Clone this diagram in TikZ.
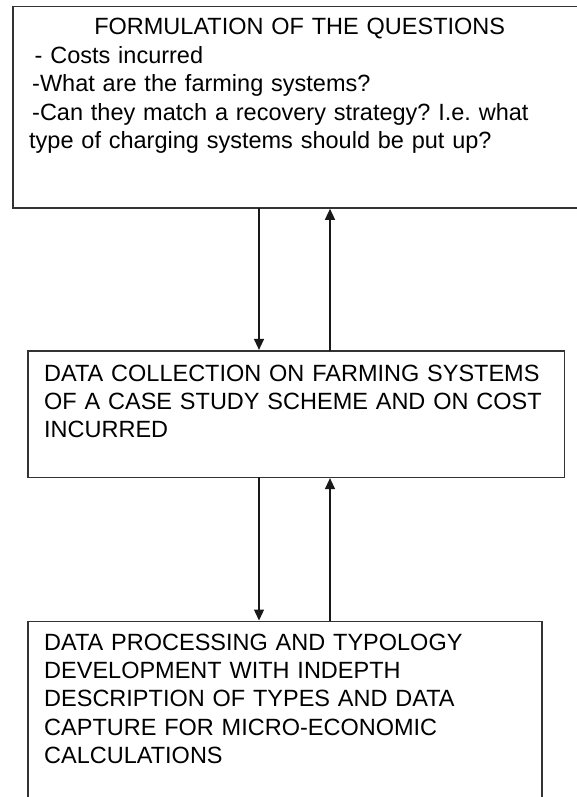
\documentclass[tikz,border=0pt]{standalone}
\usepackage{fontspec}
\setmainfont{Liberation Sans}
\usetikzlibrary{arrows.meta}
\begin{document}
\begin{tikzpicture}[x=1pt,y=-1pt,
  box/.style={draw=black!80, line width=1.6pt, inner sep=0pt, outer sep=0pt, anchor=north west},
  txt/.style={inner sep=0pt, anchor=base west, align=left, font=\fontsize{23.5}{28.4}\selectfont\frenchspacing},
  arr/.style={draw=black!90, line width=1.3pt, shorten >=0.8pt, -{Triangle[length=11pt,width=10pt]}}]
\useasboundingbox (0,0) rectangle (576,797);
\node[box, minimum width=577pt, minimum height=201.3pt] (b1) at (12.9,6.7) {};
\node[box, minimum width=536.3pt, minimum height=126.6pt] (b2) at (28,350.7) {};
\node[box, minimum width=514pt, minimum height=198.7pt] (b3) at (28,621.3) {};
\node[txt, text width=541pt] (t1) at (29,35) {\makebox[\linewidth][c]{FORMULATION OF THE QUESTIONS}\\
\hspace*{5.5pt}- Costs incurred\\
\hspace*{3pt}-What are the farming systems?\\
\hspace*{3pt}-Can they match a recovery strategy? I.e. what\\
type of charging systems should be put up?};
\node[txt, text width=510pt] (t2) at (44,381) {DATA COLLECTION ON FARMING SYSTEMS\\
OF A CASE STUDY SCHEME AND ON COST\\
INCURRED};
\node[txt, text width=490pt] (t3) at (44,650) {DATA PROCESSING AND TYPOLOGY\\
DEVELOPMENT WITH INDEPTH\\
DESCRIPTION OF TYPES AND DATA\\
CAPTURE FOR MICRO-ECONOMIC\\
CALCULATIONS};
\coordinate (xl) at (259,0);
\coordinate (xr) at (330,0);
\draw[arr] (b1.south -| xl) -- (b2.north -| xl);
\draw[arr] (b2.north -| xr) -- (b1.south -| xr);
\draw[arr] (b2.south -| xl) -- (b3.north -| xl);
\draw[arr] (b3.north -| xr) -- (b2.south -| xr);
\end{tikzpicture}
\end{document}
